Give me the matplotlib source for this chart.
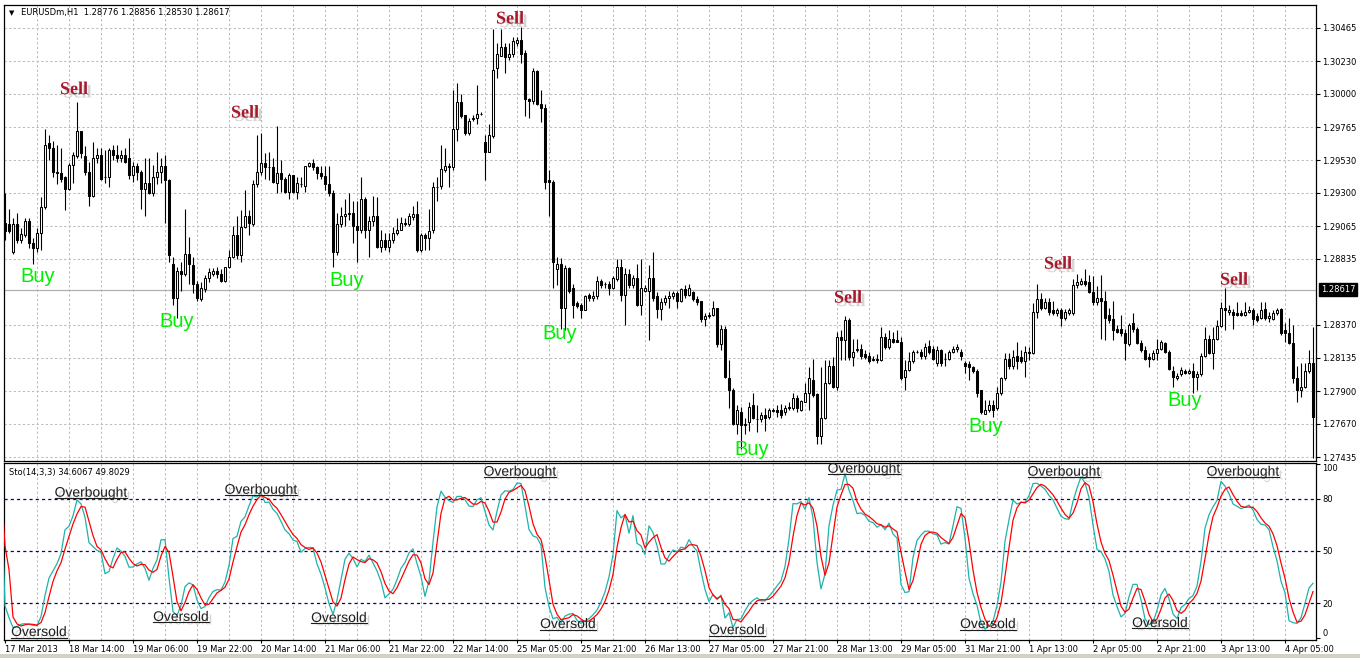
import numpy as np
import pandas as pd
import matplotlib
matplotlib.use("Agg")
import matplotlib.pyplot as plt
from matplotlib import patheffects as pe
from matplotlib.transforms import IdentityTransform, blended_transform_factory
from matplotlib.lines import Line2D
from matplotlib.patches import Rectangle

# ---------------- data: EURUSD H1, prices in pips above 1.2700 ----------------
BASE = 1.2700
PIP = 0.0001

open_pips = [
209,208,188,208,197,200,210,195,191,202,220,265,262,245,244,241,233,250,256,274,
256,245,228,255,257,241,241,260,257,255,257,255,243,249,245,233,237,230,241,245,
249,239,180,156,175,173,187,179,166,155,162,170,173,175,173,168,178,185,200,186,
206,214,208,236,245,251,248,248,237,244,240,231,243,231,236,235,249,251,248,244,
242,236,230,188,208,214,215,216,207,204,226,204,210,214,192,197,192,197,202,204,
209,208,213,215,190,200,198,204,234,235,246,249,248,275,294,285,272,282,283,286,
266,259,270,318,327,333,326,328,336,338,329,296,295,316,293,290,239,238,176,180,
149,177,163,152,151,147,158,156,157,168,166,166,163,169,178,158,173,165,170,151,
161,161,170,157,148,153,156,157,159,154,162,158,160,155,154,141,143,144,149,123,
134,99,91,67,75,66,68,80,70,70,73,72,76,77,77,75,78,78,85,77,
82,89,98,88,58,71,96,108,93,128,126,140,114,119,120,116,115,112,112,112,
128,121,127,126,125,100,105,111,118,118,115,122,120,110,119,113,113,118,120,118,
110,109,107,104,91,74,77,80,78,89,99,113,108,115,114,111,118,117,146,155,
149,153,147,145,147,142,145,145,165,166,168,167,160,153,156,154,144,141,134,134,
131,123,138,134,124,119,114,113,117,120,124,118,104,99,102,104,103,104,100,102,
115,127,117,127,136,149,146,146,145,145,144,146,147,143,142,148,142,141,145,148,
133,131,124,99,91,93,104,110]

high_pips = [
230,219,212,216,205,212,212,198,205,227,275,271,267,264,262,242,251,259,294,274,
263,252,266,262,262,260,262,264,264,260,262,269,252,251,246,255,255,250,259,255,
257,240,185,178,181,219,199,185,168,167,172,177,177,178,176,178,190,207,214,218,
232,218,239,271,272,258,259,255,277,253,241,244,243,241,241,249,252,254,249,249,
249,249,232,216,220,226,230,224,224,241,227,214,228,227,204,202,202,206,212,213,
212,216,221,224,202,202,219,238,241,264,262,251,303,308,300,285,283,285,306,287,
271,279,346,336,346,336,336,340,340,347,331,297,318,317,303,293,246,239,185,184,
179,178,166,154,152,158,159,161,171,169,167,168,171,183,183,177,176,172,180,183,
165,179,188,160,156,158,161,161,161,163,165,166,161,157,154,145,146,154,149,137,
136,112,92,80,79,71,82,89,80,75,78,78,78,80,81,80,82,89,87,84,
96,107,113,89,107,112,112,114,132,133,143,142,127,127,123,119,118,115,116,135,
131,133,132,133,128,112,118,119,119,120,124,126,122,122,120,117,119,122,123,120,
111,111,108,106,91,84,84,84,93,100,117,117,119,125,119,122,121,152,166,159,
156,156,154,149,149,148,149,169,173,170,176,172,171,164,172,161,149,154,137,144,
134,138,145,135,126,122,117,119,127,126,125,119,108,103,107,106,106,110,104,117,
135,130,135,140,153,163,151,148,153,147,153,150,149,145,153,153,146,147,149,149,
138,142,137,108,110,110,119,135]

low_pips = [
197,202,187,195,195,199,191,180,188,190,219,253,241,236,238,218,232,237,255,255,
243,221,227,251,239,237,234,253,252,252,251,240,238,239,219,214,229,228,236,237,
209,181,151,142,161,171,166,159,154,154,160,167,171,170,167,167,177,184,183,181,
205,200,207,234,243,240,239,237,230,231,230,226,230,226,234,231,248,246,240,240,
232,228,178,186,206,207,211,195,181,202,198,185,207,191,188,190,188,195,200,204,
207,207,211,188,188,190,190,202,224,233,245,234,246,267,283,271,271,281,279,285,
239,259,269,311,327,315,324,326,334,322,284,283,293,292,280,233,214,163,165,134,
133,159,142,149,142,147,154,154,155,163,163,158,162,168,154,137,163,163,150,144,
160,126,154,142,140,151,149,155,149,153,156,157,154,151,139,136,142,143,121,119,
99,78,66,60,49,60,62,70,61,68,62,70,75,72,71,73,77,77,75,76,
82,77,86,53,53,70,95,92,91,112,112,112,108,118,113,113,110,111,110,111,
120,120,124,125,98,91,104,110,117,113,113,116,112,108,108,108,112,117,118,112,
103,98,103,86,74,74,75,72,77,87,98,106,106,106,110,100,112,116,142,147,
148,144,144,143,136,140,144,144,163,165,164,159,151,151,127,126,138,126,131,129,
112,122,132,123,118,112,107,112,112,119,117,105,93,98,101,102,102,89,91,101,
114,116,106,126,135,133,144,134,143,143,143,145,137,139,141,140,139,140,144,130,
125,123,96,82,86,92,103,43]

close_pips = [
203,203,208,197,201,210,195,191,202,220,264,262,245,244,240,233,250,257,274,258,
245,228,255,257,240,241,260,257,255,257,252,243,249,245,233,237,230,241,245,249,
239,186,156,175,173,187,180,166,156,163,170,174,175,173,168,178,185,200,186,206,
214,209,236,245,251,248,248,238,244,240,231,243,231,237,236,249,251,248,244,242,
236,230,188,208,214,215,216,207,204,226,204,210,214,192,197,192,197,202,204,209,
208,214,215,190,200,198,203,234,234,247,249,248,275,294,284,272,281,283,286,286,
259,271,317,328,333,326,328,337,338,328,296,295,316,293,290,238,238,181,180,149,
177,161,151,150,147,157,156,157,168,165,166,163,170,178,158,173,165,170,151,163,
163,170,156,148,153,156,157,159,154,162,158,163,155,153,141,143,144,149,123,134,
100,91,67,77,66,67,79,71,70,73,71,77,77,75,73,78,79,85,78,83,
89,99,87,58,71,96,108,93,128,126,140,114,118,120,115,114,111,113,113,128,
121,127,125,125,99,105,111,118,118,115,121,118,113,119,110,113,118,120,121,115,
108,107,104,89,75,77,80,77,89,99,113,108,114,111,111,118,117,146,155,149,
153,146,145,147,142,146,147,165,167,168,166,160,153,156,154,142,140,133,132,131,
124,137,134,124,119,113,113,117,120,125,118,106,100,101,105,103,104,100,102,115,
127,117,127,136,149,147,147,144,144,144,146,147,141,140,147,142,143,145,147,131,
131,124,99,91,93,104,110,72]

# last hourly bar before the visible window (Friday 15 Mar, before the gap),
# high / low / close in pips, estimated from the oscillator's starting level
prev_bar_hlc_pips = [380, 340, 375]

# time axis labels (one every 16 hourly bars)
time_labels = ["17 Mar 2013", "18 Mar 14:00", "19 Mar 06:00", "19 Mar 22:00",
               "20 Mar 14:00", "21 Mar 06:00", "21 Mar 22:00", "22 Mar 14:00",
               "25 Mar 05:00", "25 Mar 21:00", "26 Mar 13:00", "27 Mar 05:00",
               "27 Mar 21:00", "28 Mar 13:00", "29 Mar 05:00", "31 Mar 21:00",
               "1 Apr 13:00", "2 Apr 05:00", "2 Apr 21:00", "3 Apr 13:00",
               "4 Apr 05:00"]
label_step = 16
grid_step = 8

price_ticks = [1.30465, 1.30230, 1.30000, 1.29765, 1.29530, 1.29300, 1.29065,
               1.28835, 1.28370, 1.28135, 1.27900, 1.27670, 1.27435]
bid_price = 1.28617
header_ohlc = ["1.28776", "1.28856", "1.28530", "1.28617"]
sto_header = "Sto(14,3,3) 34.6067 49.8029"
sto_ticks = [0, 20, 50, 80, 100]
sto_levels = [20, 50, 80]
k_period, d_period, slowing = 14, 3, 3

# signal annotations: (bar index, price) and (bar index, stochastic value)
buy_marks = [(8.25, 1.2871), (43.0, 1.28395), (85.5, 1.28684), (138.75, 1.2831),
             (186.75, 1.27491), (245.25, 1.27649), (295.0, 1.27837)]
sell_marks = [(17.25, 1.3003), (60.0, 1.29864), (126.25, 1.30528), (210.75, 1.28557),
              (263.25, 1.28797), (307.25, 1.28684)]
overbought_marks = [(21.5, 83.5), (64.0, 85.2), (128.75, 95.6), (214.75, 97.3),
                    (264.75, 95.6), (309.5, 95.6)]
oversold_marks = [(8.5, 3.3), (44.0, 12.0), (83.5, 11.4), (140.75, 7.9),
                  (183.0, 4.4), (245.75, 7.9), (288.75, 8.5)]

# ---------------- derived series ----------------
o = BASE + np.array(open_pips) * PIP
h = BASE + np.array(high_pips) * PIP
l = BASE + np.array(low_pips) * PIP
c = BASE + np.array(close_pips) * PIP
n = len(c)
x = np.arange(n)

ph, pl, pc = (BASE + v * PIP for v in prev_bar_hlc_pips)
hs = pd.Series(np.concatenate([[ph], h]))
ls = pd.Series(np.concatenate([[pl], l]))
cs = pd.Series(np.concatenate([[pc], c]))
hh = hs.rolling(k_period, min_periods=1).max()
ll = ls.rolling(k_period, min_periods=1).min()
num = (cs - ll).rolling(slowing, min_periods=1).sum()
den = (hh - ll).rolling(slowing, min_periods=1).sum()
sto_main = 100 * num / den
sto_signal = sto_main.rolling(d_period, min_periods=1).mean()
xs = np.arange(-1, n)

# ---------------- figure ----------------
W, H = 1360, 658
fig = plt.figure(figsize=(W / 100, H / 100), dpi=100)
fig.patch.set_facecolor("white")
plt.rcParams["font.family"] = ["DejaVu Sans"]

ax = fig.add_axes([4 / W, (H - 461) / H, 1312 / W, 456 / H])
ax2 = fig.add_axes([4 / W, (H - 640) / H, 1312 / W, 177 / H])

xlim = (-0.25, n - 0.25)
grid_col = "#bdbdbd"
dash = (0, (2.2, 2.2))

for a in (ax, ax2):
    a.set_xlim(*xlim)
    for s in a.spines.values():
        s.set_color("black")
        s.set_linewidth(0.9)
    for gx in range(grid_step, n, grid_step):
        a.axvline(gx, color=grid_col, lw=0.75, ls=dash, zorder=0)

# main price axes
ax.set_ylim(1.274068, 1.306274)
for p in price_ticks:
    ax.axhline(p, color=grid_col, lw=0.75, ls=dash, zorder=0)
ax.axhline(bid_price, color="#b0b0b0", lw=0.9, zorder=1)

bull = c >= o
ax.vlines(x, l, h, color="black", lw=0.8, zorder=2)
ax.bar(x, np.abs(c - o), bottom=np.minimum(o, c), width=0.55,
       color=np.where(bull, "white", "black"), edgecolor="black",
       linewidth=0.75, zorder=3)

ax.yaxis.tick_right()
ax.set_yticks(price_ticks)
ax.set_yticklabels([f"{p:.5f}" for p in price_ticks])
ax.tick_params(axis="y", direction="out", length=3, width=0.8, pad=1.5,
               labelsize=6, colors="black")
ax.tick_params(axis="x", bottom=False, labelbottom=False)

btr = blended_transform_factory(ax.transAxes, ax.transData)
ax.text(1.0 + 5 / 1312, bid_price, f"{bid_price:.5f}", transform=btr,
        ha="left", va="center", fontsize=6, color="white",
        bbox=dict(facecolor="black", edgecolor="black", pad=1.2))

fig.text(9 / W, 1 - 13 / H, "\u25bc", fontsize=5, ha="left", va="center")
fig.text(21 / W, 1 - 13 / H, "EURUSDm,H1  " + " ".join(header_ohlc),
         fontsize=6, ha="left", va="center")

shadow = [pe.withSimplePatchShadow(offset=(2.5, -2.5), shadow_rgbFace="#8a8a8a",
                                   alpha=0.35)]
for bx, by in buy_marks:
    ax.text(bx, by, "Buy", color="#00ee00", fontsize=14.5,
            family=["Liberation Sans", "DejaVu Sans"], ha="center", va="center",
            zorder=5)
for sx, sy in sell_marks:
    ax.text(sx, sy, "Sell", color="#a8182c", fontsize=13, fontweight="bold",
            family=["Liberation Serif", "DejaVu Serif"], ha="center", va="center",
            zorder=5, path_effects=shadow)

# stochastic axes
ax2.set_ylim(-1.3, 100.6)
for lv in sto_levels:
    ax2.axhline(lv, color="#000080", lw=0.9, ls=(0, (2.5, 2.5)), zorder=1)
ax2.plot(xs, sto_main, color="#20b2aa", lw=0.9, zorder=3)
ax2.plot(xs, sto_signal, color="#ff0000", lw=0.9, zorder=4)

ax2.yaxis.tick_right()
ax2.set_yticks(sto_ticks)
ax2.set_yticklabels([str(t) for t in sto_ticks])
ax2.tick_params(axis="y", direction="out", length=3, width=0.8, pad=1.5,
                labelsize=6)
yt = ax2.yaxis.get_major_ticks()
yt[0].label2.set_va("bottom")
yt[-1].label2.set_va("top")

ax2.set_xticks(np.arange(0, n, label_step)[:len(time_labels)])
ax2.set_xticklabels(time_labels, ha="left")
ax2.tick_params(axis="x", direction="out", length=2.5, width=0.8, pad=1.0,
                labelsize=6)

fig.text(9 / W, 1 - 472 / H, sto_header, fontsize=6, ha="left", va="center")

ob_texts = []
for tx, ty in overbought_marks:
    ob_texts.append(ax2.text(tx, ty, "Overbought", fontsize=10, color="#1e1e1e",
                             family=["Liberation Sans", "DejaVu Sans"],
                             ha="center", va="center", zorder=6,
                             path_effects=shadow))
for tx, ty in oversold_marks:
    ob_texts.append(ax2.text(tx, ty, "Oversold", fontsize=10, color="#1e1e1e",
                             family=["Liberation Sans", "DejaVu Sans"],
                             ha="center", va="center", zorder=6,
                             path_effects=shadow))

# bottom gray strip of the terminal window
fig.patches.append(Rectangle((0, 0), 1, 4 / H, transform=fig.transFigure,
                             facecolor="#d4d0c8", edgecolor="none"))

# underline the Overbought / Oversold labels
fig.canvas.draw()
for t in ob_texts:
    bb = t.get_window_extent()
    yline = bb.y0 + 1.5
    fig.add_artist(Line2D([bb.x0, bb.x1], [yline, yline], transform=IdentityTransform(),
                          color="#1e1e1e", lw=0.8))

fig.savefig("out.png", dpi=100)
